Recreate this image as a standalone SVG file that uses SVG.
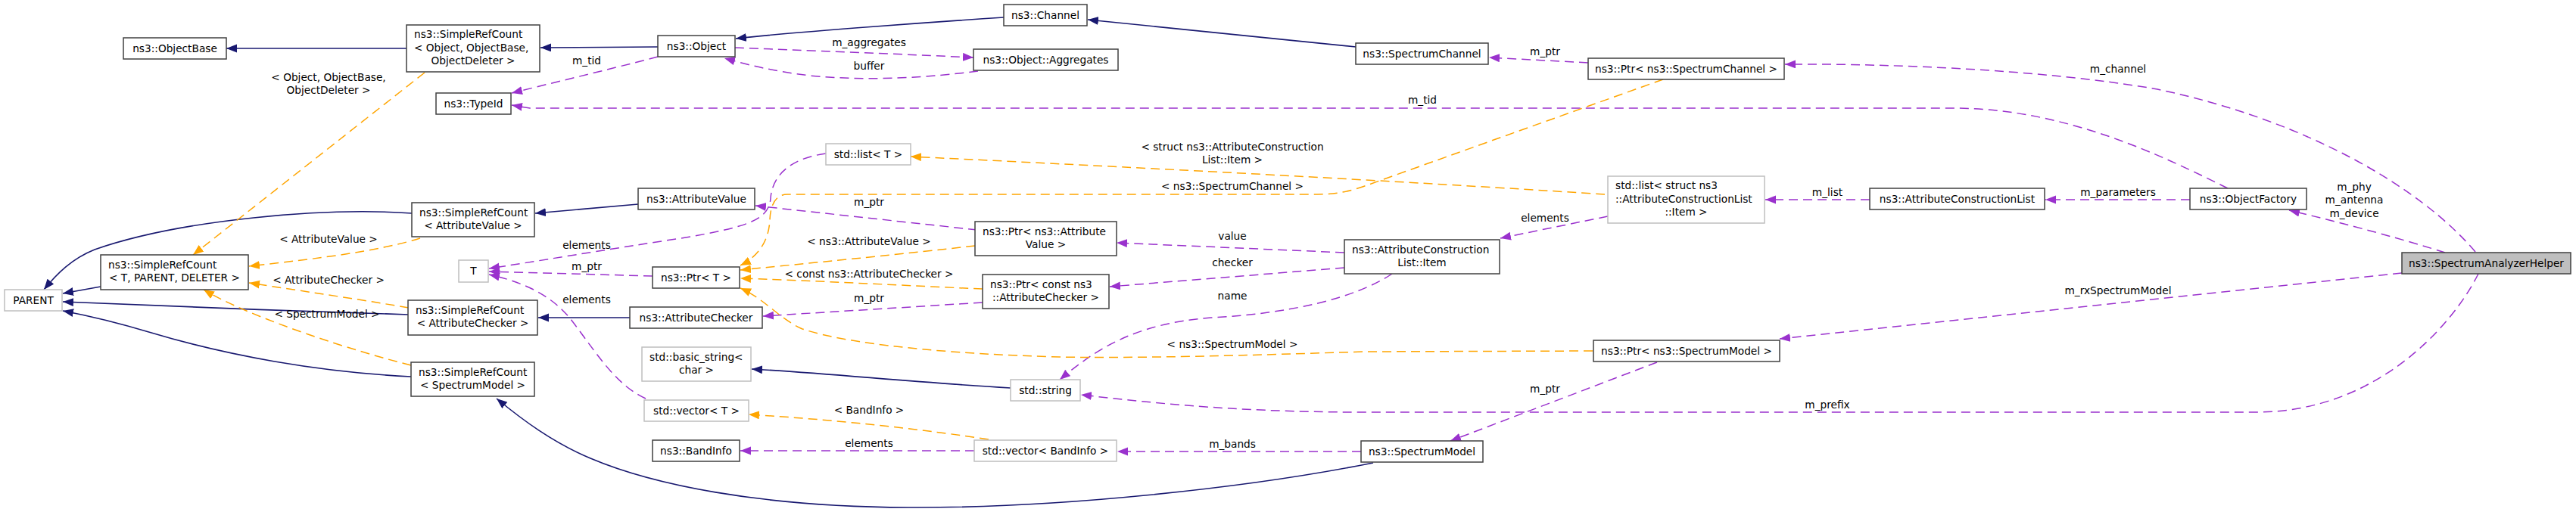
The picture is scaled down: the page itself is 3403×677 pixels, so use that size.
<svg xmlns="http://www.w3.org/2000/svg" width="3403" height="677" viewBox="0 0 3403 677">
<style>
text{font-family:"DejaVu Sans","Liberation Sans",sans-serif;font-size:13.7px;fill:#000}
.n rect{fill:#fff;stroke:#404040;stroke-width:1.5}
.u rect{fill:#fff;stroke:#bfbfbf;stroke-width:1.5}
.m{text-anchor:middle}
.inh{fill:none;stroke:#191970;stroke-width:1.6;marker-end:url(#ab)}
.use{fill:none;stroke:#9a32cd;stroke-width:1.5;stroke-dasharray:12,7;marker-end:url(#ap)}
.tpl{fill:none;stroke:#ffa500;stroke-width:1.5;stroke-dasharray:12,7;marker-end:url(#ao)}
</style>
<defs>
<marker id="ab" markerWidth="15" markerHeight="12" refX="14" refY="5.5" orient="auto" markerUnits="userSpaceOnUse"><path d="M0,0 L14,5.5 L0,11 z" fill="#191970"/></marker>
<marker id="ap" markerWidth="15" markerHeight="12" refX="14" refY="5.5" orient="auto" markerUnits="userSpaceOnUse"><path d="M0,0 L14,5.5 L0,11 z" fill="#9a32cd"/></marker>
<marker id="ao" markerWidth="15" markerHeight="12" refX="14" refY="5.5" orient="auto" markerUnits="userSpaceOnUse"><path d="M0,0 L14,5.5 L0,11 z" fill="#ffa500"/></marker>
</defs>
<rect width="3403" height="677" fill="#fff"/>
<g id="connectors">
<path class="inh" d="M537,64 L299,64"/>
<path class="inh" d="M869,62 L714,63"/>
<path class="inh" d="M1326,23 C1250,28 1050,42 972,51"/>
<path class="inh" d="M1791,62 L1437,26"/>
<path class="inh" d="M544,282 C430,274 240,290 125,330 C95,342 75,362 58,383"/>
<path class="inh" d="M133,379 L83,388"/>
<path class="inh" d="M540,416 C400,412 200,404 83,399"/>
<path class="inh" d="M543,498 C420,492 300,470 200,440 C160,428 120,418 83,411"/>
<path class="inh" d="M843,270 L707,282"/>
<path class="inh" d="M832,420 L711,420"/>
<path class="inh" d="M1814,612 C1650,645 1400,672 1200,671 C1000,670 860,640 780,606 C730,585 690,555 656,527"/>
<path class="inh" d="M1335,513 C1200,505 1100,494 993,488"/>
<path class="use" d="M869,75 C800,93 720,112 676,123"/>
<path class="use" d="M971,63 C1050,66 1200,72 1286,76"/>
<path class="use" d="M1292,94 C1230,102 1150,108 1070,100 C1020,94 985,85 957,77"/>
<path class="use" d="M2943,249 C2860,208 2730,143 2580,143 L700,143 L676,139"/>
<path class="use" d="M3270,333 C3200,250 3050,160 2850,118 C2700,92 2500,84 2358,85"/>
<path class="use" d="M2098,83 L1967,76"/>
<path class="use" d="M2893,264 L2702,264"/>
<path class="use" d="M2470,264 L2332,264"/>
<path class="use" d="M2124,286 L1982,315"/>
<path class="use" d="M1776,334 L1475,321"/>
<path class="use" d="M1776,354 L1466,379"/>
<path class="use" d="M1839,362 C1790,395 1700,415 1600,420 C1500,428 1450,460 1400,502"/>
<path class="use" d="M1291,304 L998,272"/>
<path class="use" d="M1298,400 L1008,418"/>
<path class="use" d="M862,365 L646,359"/>
<path class="use" d="M1091,203 C1040,210 1020,235 1018,262 C1016,290 990,300 900,315 C800,330 700,347 646,355"/>
<path class="use" d="M853,527 C815,510 790,470 760,430 C735,395 700,375 646,363"/>
<path class="use" d="M3173,361 L2351,448"/>
<path class="use" d="M2189,479 L1916,583"/>
<path class="use" d="M3274,362 C3240,430 3140,545 2980,545 L1800,545 C1620,545 1500,530 1428,522"/>
<path class="use" d="M1798,597 L1476,597"/>
<path class="use" d="M1287,596 L978,596"/>
<path class="use" d="M3230,334 C3180,318 3100,296 3024,278"/>
<path class="tpl" d="M561,96 L255,337"/>
<path class="tpl" d="M555,315 C500,332 420,342 329,352"/>
<path class="tpl" d="M540,407 C470,395 400,385 329,374"/>
<path class="tpl" d="M543,483 C470,465 330,420 269,383"/>
<path class="tpl" d="M2120,257 C1950,246 1700,231 1203,207"/>
<path class="tpl" d="M2197,105 L1800,247 C1780,254 1760,257 1740,257 L1040,257 C1025,257 1018,270 1017,290 C1016,320 1000,340 978,351"/>
<path class="tpl" d="M1288,325 C1200,335 1100,345 978,357"/>
<path class="tpl" d="M1298,382 C1200,378 1100,372 978,368"/>
<path class="tpl" d="M2104,464 L1800,465 C1650,470 1500,474 1400,472 C1250,468 1120,455 1060,435 C1030,422 1010,395 978,381"/>
<path class="tpl" d="M1306,581 C1200,565 1100,555 989,548"/>
<text class="m" x="434" y="107">&lt; Object, ObjectBase,</text>
<text class="m" x="434" y="124">ObjectDeleter &gt;</text>
<text class="m" x="434" y="321">&lt; AttributeValue &gt;</text>
<text class="m" x="434" y="375">&lt; AttributeChecker &gt;</text>
<text class="m" x="432" y="420">&lt; SpectrumModel &gt;</text>
<text class="m" x="775" y="85">m_tid</text>
<text class="m" x="1148" y="61">m_aggregates</text>
<text class="m" x="1148" y="92">buffer</text>
<text class="m" x="775" y="329">elements</text>
<text class="m" x="775" y="357">m_ptr</text>
<text class="m" x="775" y="401">elements</text>
<text class="m" x="1148" y="272">m_ptr</text>
<text class="m" x="1148" y="324">&lt; ns3::AttributeValue &gt;</text>
<text class="m" x="1148" y="367">&lt; const ns3::AttributeChecker &gt;</text>
<text class="m" x="1148" y="399">m_ptr</text>
<text class="m" x="1148" y="547">&lt; BandInfo &gt;</text>
<text class="m" x="1148" y="591">elements</text>
<text class="m" x="1628" y="199">&lt; struct ns3::AttributeConstruction</text>
<text class="m" x="1628" y="216">List::Item &gt;</text>
<text class="m" x="1628" y="251">&lt; ns3::SpectrumChannel &gt;</text>
<text class="m" x="1628" y="317">value</text>
<text class="m" x="1628" y="352">checker</text>
<text class="m" x="1628" y="396">name</text>
<text class="m" x="1628" y="460">&lt; ns3::SpectrumModel &gt;</text>
<text class="m" x="1628" y="592">m_bands</text>
<text class="m" x="1879" y="137">m_tid</text>
<text class="m" x="2041" y="73">m_ptr</text>
<text class="m" x="2041" y="293">elements</text>
<text class="m" x="2041" y="519">m_ptr</text>
<text class="m" x="2414" y="259">m_list</text>
<text class="m" x="2414" y="540">m_prefix</text>
<text class="m" x="2798" y="96">m_channel</text>
<text class="m" x="2798" y="259">m_parameters</text>
<text class="m" x="2798" y="389">m_rxSpectrumModel</text>
<text class="m" x="3110" y="252">m_phy</text>
<text class="m" x="3110" y="269">m_antenna</text>
<text class="m" x="3110" y="287">m_device</text>
</g>
<g id="ObjectBase" class="n"><rect x="163" y="50" width="136" height="28"/><text class="m" x="231" y="69">ns3::ObjectBase</text></g>
<g id="SRC_Object" class="n"><rect x="537" y="33" width="176" height="62"/><text x="547" y="50">ns3::SimpleRefCount</text><text x="547" y="68">&lt; Object, ObjectBase,</text><text class="m" x="625" y="85">ObjectDeleter &gt;</text></g>
<g id="Object" class="n"><rect x="869" y="47" width="102" height="28"/><text class="m" x="920" y="66">ns3::Object</text></g>
<g id="Channel" class="n"><rect x="1326" y="6" width="110" height="28"/><text class="m" x="1381" y="25">ns3::Channel</text></g>
<g id="Aggregates" class="n"><rect x="1286" y="65" width="191" height="28"/><text class="m" x="1381.5" y="84">ns3::Object::Aggregates</text></g>
<g id="SpectrumChannel" class="n"><rect x="1791" y="57" width="175" height="28"/><text class="m" x="1878.5" y="76">ns3::SpectrumChannel</text></g>
<g id="PtrSpectrumChannel" class="n"><rect x="2098" y="77" width="259" height="28"/><text class="m" x="2227.5" y="96">ns3::Ptr&lt; ns3::SpectrumChannel &gt;</text></g>
<g id="TypeId" class="n"><rect x="576" y="123" width="99" height="28"/><text class="m" x="625.5" y="142">ns3::TypeId</text></g>
<g id="ListT" class="u"><rect x="1091" y="190" width="112" height="28"/><text class="m" x="1147" y="209">std::list&lt; T &gt;</text></g>
<g id="AttributeValue" class="n"><rect x="843" y="249" width="154" height="28"/><text class="m" x="920" y="268">ns3::AttributeValue</text></g>
<g id="ListItem" class="u"><rect x="2124" y="233" width="207" height="62"/><text x="2134" y="250">std::list&lt; struct ns3</text><text x="2134" y="268">::AttributeConstructionList</text><text class="m" x="2227.5" y="285">::Item &gt;</text></g>
<g id="AttributeConstructionList" class="n"><rect x="2470" y="249" width="231" height="28"/><text class="m" x="2585.5" y="268">ns3::AttributeConstructionList</text></g>
<g id="ObjectFactory" class="n"><rect x="2893" y="249" width="154" height="28"/><text class="m" x="2970" y="268">ns3::ObjectFactory</text></g>
<g id="SpectrumAnalyzerHelper" class="n"><rect x="3173" y="334" width="223" height="28" style="fill:#bfbfbf"/><text class="m" x="3284.5" y="353">ns3::SpectrumAnalyzerHelper</text></g>
<g id="SRC_AttributeValue" class="n"><rect x="544" y="268" width="162" height="45"/><text x="554" y="286">ns3::SimpleRefCount</text><text class="m" x="625" y="303">&lt; AttributeValue &gt;</text></g>
<g id="T" class="u"><rect x="606" y="344" width="39" height="29"/><text class="m" x="625.5" y="363">T</text></g>
<g id="PtrT" class="n"><rect x="862" y="353" width="115" height="28"/><text class="m" x="919.5" y="372">ns3::Ptr&lt; T &gt;</text></g>
<g id="PtrAttributeValue" class="n"><rect x="1288" y="293" width="187" height="45"/><text x="1298" y="311">ns3::Ptr&lt; ns3::Attribute</text><text class="m" x="1381.5" y="328">Value &gt;</text></g>
<g id="PtrAttributeChecker" class="n"><rect x="1298" y="363" width="167" height="45"/><text x="1308" y="381">ns3::Ptr&lt; const ns3</text><text class="m" x="1381.5" y="398">::AttributeChecker &gt;</text></g>
<g id="Item" class="n"><rect x="1776" y="317" width="205" height="45"/><text x="1786" y="335">ns3::AttributeConstruction</text><text class="m" x="1878.5" y="352">List::Item</text></g>
<g id="AttributeChecker" class="n"><rect x="832" y="406" width="175" height="28"/><text class="m" x="919.5" y="425">ns3::AttributeChecker</text></g>
<g id="SRC_AttributeChecker" class="n"><rect x="539" y="397" width="171" height="46"/><text x="549" y="415">ns3::SimpleRefCount</text><text class="m" x="624.5" y="432">&lt; AttributeChecker &gt;</text></g>
<g id="SRC_T" class="n"><rect x="133" y="337" width="195" height="46"/><text x="143" y="355">ns3::SimpleRefCount</text><text class="m" x="230.5" y="372">&lt; T, PARENT, DELETER &gt;</text></g>
<g id="PARENT" class="u"><rect x="6" y="383" width="76" height="28"/><text class="m" x="44" y="402">PARENT</text></g>
<g id="BasicString" class="u"><rect x="848" y="459" width="144" height="45"/><text x="858" y="477">std::basic_string&lt;</text><text class="m" x="920" y="494">char &gt;</text></g>
<g id="String" class="u"><rect x="1335" y="502" width="92" height="28"/><text class="m" x="1381" y="521">std::string</text></g>
<g id="PtrSpectrumModel" class="n"><rect x="2105" y="450" width="246" height="28"/><text class="m" x="2228" y="469">ns3::Ptr&lt; ns3::SpectrumModel &gt;</text></g>
<g id="SRC_SpectrumModel" class="n"><rect x="543" y="479" width="163" height="45"/><text x="553" y="497">ns3::SimpleRefCount</text><text class="m" x="624.5" y="514">&lt; SpectrumModel &gt;</text></g>
<g id="VectorT" class="u"><rect x="851" y="529" width="138" height="28"/><text class="m" x="920" y="548">std::vector&lt; T &gt;</text></g>
<g id="BandInfo" class="n"><rect x="862" y="582" width="115" height="28"/><text class="m" x="919.5" y="601">ns3::BandInfo</text></g>
<g id="VectorBandInfo" class="u"><rect x="1287" y="582" width="188" height="28"/><text class="m" x="1381" y="601">std::vector&lt; BandInfo &gt;</text></g>
<g id="SpectrumModel" class="n"><rect x="1798" y="583" width="161" height="28"/><text class="m" x="1878.5" y="602">ns3::SpectrumModel</text></g>
</svg>
